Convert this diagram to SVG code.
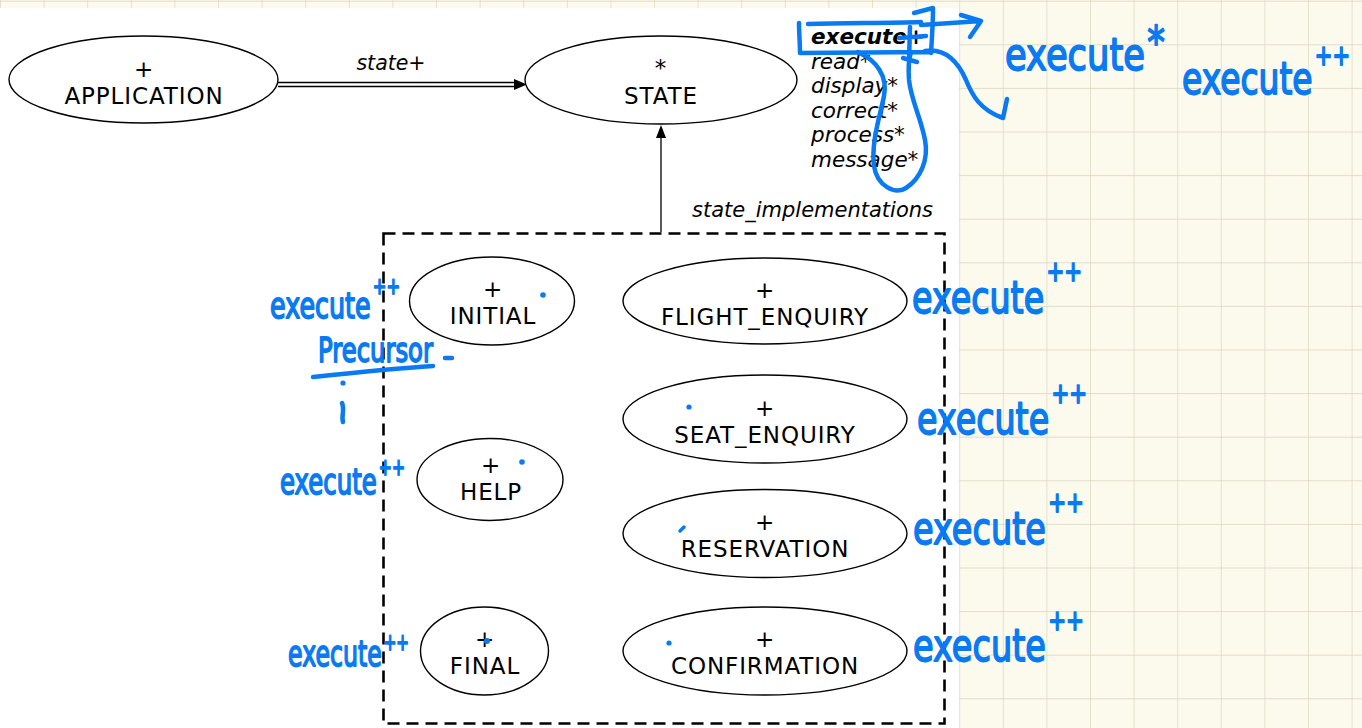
<svg xmlns="http://www.w3.org/2000/svg" width="1362" height="728" viewBox="0 0 1362 728">
<style>
.node ellipse{fill:#fff;stroke:#000;stroke-width:1.4}
.lbl{font-family:"DejaVu Sans",Verdana,sans-serif;font-size:23px;letter-spacing:0.9px;fill:#000;text-anchor:middle}
.it{font-family:"DejaVu Sans",Verdana,sans-serif;font-style:italic;font-size:21.5px;fill:#000}
.hw{font-family:"DejaVu Sans",sans-serif;fill:#0a7af2;stroke:#0a7af2;stroke-width:1.8;stroke-linejoin:round}
.pen{fill:none;stroke:#0a7af2;stroke-width:4.5;stroke-linecap:round;stroke-linejoin:round}
.dot{fill:#0a7af2}
</style>
<defs>
<pattern id="grid" patternUnits="userSpaceOnUse" x="0" y="0.7" width="43.6" height="43.6">
<rect width="43.6" height="43.6" fill="#fcfaec"/>
<path d="M0,0 V43.6 M0,0 H43.6" stroke="#d8d4c0" stroke-width="1.3" fill="none"/>
</pattern>
</defs>
<rect width="1362" height="728" fill="url(#grid)"/>
<rect x="0" y="8" width="959" height="720" fill="#fff"/>

<g id="connectors">
<path d="M278,82.5 H516 M278,86.5 H516" stroke="#000" stroke-width="1.3" fill="none"/>
<polygon points="527,84.5 514,79 514,90" fill="#000"/>
<text class="it" x="391" y="70" text-anchor="middle" style="font-size:20.5px">state+</text>
<path d="M661,137 V232" stroke="#000" stroke-width="1.3"/>
<polygon points="661,125 656,138 666,138" fill="#000"/>
<text class="it" x="692" y="217" style="font-size:21px">state_implementations</text>
</g>

<g id="state_implementations">
<rect x="383.5" y="233.5" width="561" height="490" fill="none" stroke="#000" stroke-width="2.6" stroke-dasharray="12 7"/>
</g>

<g id="application" class="node">
<ellipse cx="143.5" cy="79.5" rx="134.5" ry="43.5"/>
<text class="lbl" x="144" y="76.5">+</text>
<text class="lbl" x="144" y="103.5">APPLICATION</text>
</g>
<g id="state" class="node">
<ellipse cx="661" cy="80" rx="136" ry="44"/>
<text class="lbl" x="661" y="76">*</text>
<text class="lbl" x="661" y="103.5">STATE</text>
</g>
<g id="features">
<text class="it" x="811" y="44" style="font-weight:bold">execute+</text>
<text class="it" x="811" y="68.5">read*</text>
<text class="it" x="811" y="93">display*</text>
<text class="it" x="811" y="117.5">correct*</text>
<text class="it" x="811" y="142">process*</text>
<text class="it" x="811" y="166.5">message*</text>
</g>
<g id="initial" class="node">
<ellipse cx="492" cy="301" rx="82.5" ry="44"/>
<text class="lbl" x="493" y="297">+</text>
<text class="lbl" x="493" y="324">INITIAL</text>
</g>
<g id="help" class="node">
<ellipse cx="490" cy="479.5" rx="73" ry="41"/>
<text class="lbl" x="491" y="473">+</text>
<text class="lbl" x="491" y="500">HELP</text>
</g>
<g id="final" class="node">
<ellipse cx="484.5" cy="651" rx="64" ry="44"/>
<text class="lbl" x="485" y="647">+</text>
<text class="lbl" x="485" y="674">FINAL</text>
</g>
<g id="flight_enquiry" class="node">
<ellipse cx="765" cy="301" rx="142" ry="43"/>
<text class="lbl" x="765" y="298">+</text>
<text class="lbl" x="765" y="325">FLIGHT_ENQUIRY</text>
</g>
<g id="seat_enquiry" class="node">
<ellipse cx="765" cy="419" rx="142" ry="44"/>
<text class="lbl" x="765" y="416">+</text>
<text class="lbl" x="765" y="443">SEAT_ENQUIRY</text>
</g>
<g id="reservation" class="node">
<ellipse cx="765" cy="533.5" rx="142" ry="44"/>
<text class="lbl" x="765" y="530">+</text>
<text class="lbl" x="765" y="557">RESERVATION</text>
</g>
<g id="confirmation" class="node">
<ellipse cx="765" cy="651" rx="142" ry="44"/>
<text class="lbl" x="765" y="647">+</text>
<text class="lbl" x="765" y="674">CONFIRMATION</text>
</g>

<g id="annotations">
<path class="pen" d="M808,24 C850,23 890,23 921,22 M799,23 C799,33 800,43 800,53 C840,53 890,52 930,52 M914,13 L933,8 C933,22 932,38 931,53"/>
<path class="pen" d="M910,27 L909,61 M899,38 L926,36 M903,58 L917,62"/>
<path class="pen" d="M921,25 L981,21 M961,15 L981,21 L970,37"/>
<path class="pen" d="M925,51 C945,48 958,62 966,80 C972,95 980,110 1003,118 M1007,99 L1003,118"/>
<path class="pen" d="M858,52 C876,60 888,76 884,96 C880,116 871,142 874,166 C877,186 895,195 906,188 C920,179 929,160 925,140 C921,118 911,100 909,80 C908,66 909,58 911,52"/>
<path class="pen" d="M313,377 C350,373 400,368 433,366"/>
<path class="pen" d="M445,358 L452,358"/>
<circle class="dot" cx="343" cy="383" r="2.6"/>
<path class="pen" d="M342,403 C345,410 341,416 343,422"/>
<circle class="dot" cx="543" cy="295" r="2.8"/>
<circle class="dot" cx="522" cy="462" r="2.8"/>
<circle class="dot" cx="487" cy="641" r="3"/>
<circle class="dot" cx="689" cy="407" r="2.6"/>
<path class="pen" d="M680,531 L684,527" style="stroke-width:3.5"/>
<circle class="dot" cx="669" cy="643" r="2.6"/>

<text class="hw" x="1005" y="70" font-size="44" textLength="160" lengthAdjust="spacingAndGlyphs">execute<tspan dx="3" dy="-12">*</tspan></text>
<text class="hw" x="1182" y="94" font-size="44" textLength="168" lengthAdjust="spacingAndGlyphs">execute<tspan dx="3" dy="-29" font-size="28">++</tspan></text>
<text class="hw" x="912" y="313" font-size="44" textLength="170" lengthAdjust="spacingAndGlyphs">execute<tspan dx="3" dy="-32" font-size="28">++</tspan></text>
<text class="hw" x="917" y="434" font-size="44" textLength="170" lengthAdjust="spacingAndGlyphs">execute<tspan dx="3" dy="-31.5" font-size="28">++</tspan></text>
<text class="hw" x="913" y="544" font-size="44" textLength="171" lengthAdjust="spacingAndGlyphs">execute<tspan dx="3" dy="-32.5" font-size="28">++</tspan></text>
<text class="hw" x="913" y="661" font-size="44" textLength="171" lengthAdjust="spacingAndGlyphs">execute<tspan dx="3" dy="-31" font-size="28">++</tspan></text>
<text class="hw" x="270" y="318" font-size="36" textLength="130" lengthAdjust="spacingAndGlyphs">execute<tspan dx="3" dy="-24" font-size="23">++</tspan></text>
<text class="hw" x="280" y="494" font-size="36" textLength="125" lengthAdjust="spacingAndGlyphs">execute<tspan dx="3" dy="-19" font-size="23">++</tspan></text>
<text class="hw" x="288" y="666" font-size="36" textLength="121" lengthAdjust="spacingAndGlyphs">execute<tspan dx="3" dy="-16" font-size="23">++</tspan></text>
<text class="hw" x="318" y="362" font-size="34" textLength="115" lengthAdjust="spacingAndGlyphs">Precursor</text>
</g>
</svg>
